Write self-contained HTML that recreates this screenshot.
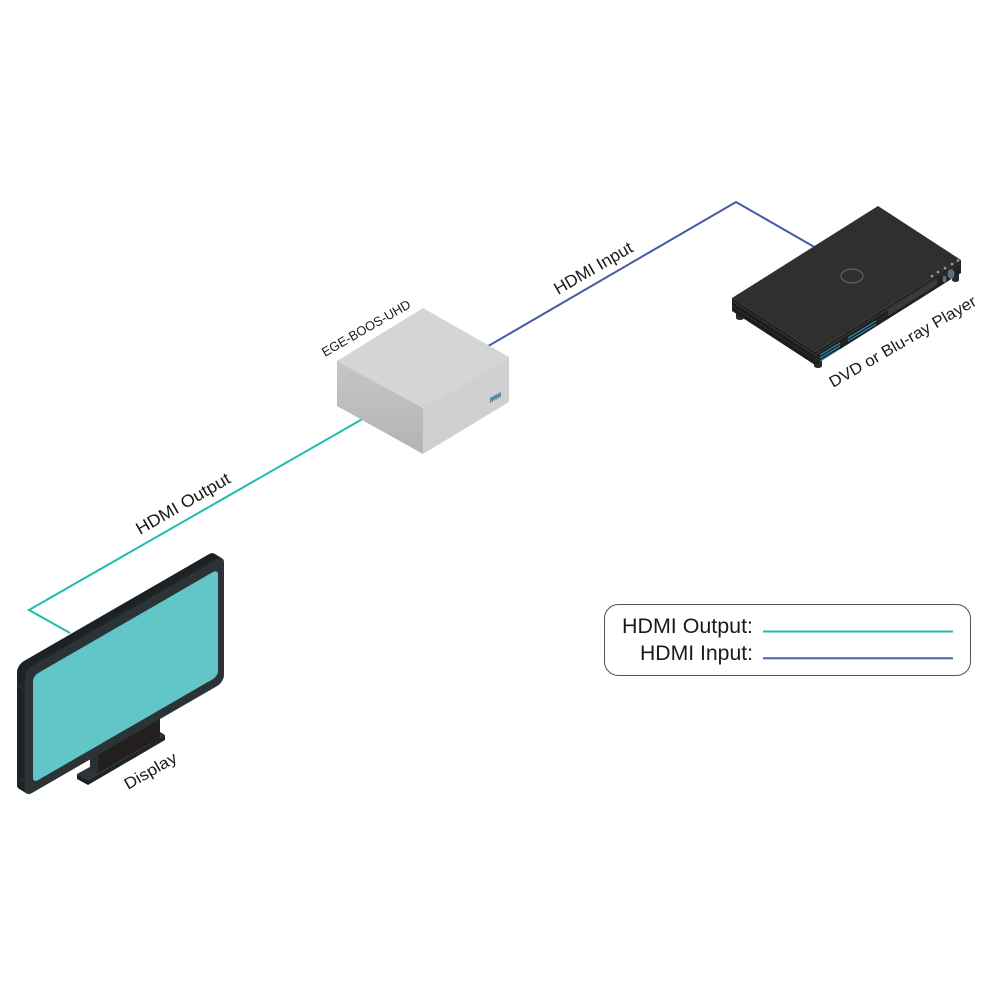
<!DOCTYPE html>
<html>
<head>
<meta charset="utf-8">
<style>
html,body{margin:0;padding:0;background:#fff;}
svg{display:block;}
text{font-family:"Liberation Sans",sans-serif;fill:#1a1a1a;}
</style>
</head>
<body>
<svg width="1000" height="1000" viewBox="0 0 1000 1000" xmlns="http://www.w3.org/2000/svg">
<rect width="1000" height="1000" fill="#fff"/>

<!-- Connectors -->
<polyline points="70,633 29,610 380,409" fill="none" stroke="#1fbcae" stroke-width="2"/>
<polyline points="478,352 736,202 830,256" fill="none" stroke="#4459a8" stroke-width="2"/>

<!-- Connector labels -->
<text transform="translate(558,295) rotate(-30)" font-size="17" textLength="88" lengthAdjust="spacingAndGlyphs">HDMI Input</text>
<text transform="translate(140,535) rotate(-30)" font-size="17" textLength="106" lengthAdjust="spacingAndGlyphs">HDMI Output</text>

<!-- EGE-BOOS-UHD box -->
<defs>
<linearGradient id="lf" x1="0" y1="0" x2="0" y2="1">
<stop offset="0" stop-color="#c6c6c6"/>
<stop offset="1" stop-color="#b3b3b3"/>
</linearGradient>
</defs>
<polygon points="337,361 423,408 423,454 337,406" fill="url(#lf)"/>
<polygon points="423,408 509,357 509,402 423,454" fill="#cfd0d0"/>
<polygon points="337,361 423,308 509,357 423,408" fill="#d4d5d5"/>
<polygon points="490,398 501,392 501,396 490,402" fill="#4f8fa6"/>
<line x1="490" y1="402.5" x2="501" y2="396.5" stroke="#8a6a4a" stroke-width="1" stroke-dasharray="1,1.2"/>
<text transform="translate(325,357) rotate(-30)" font-size="13" textLength="100" lengthAdjust="spacingAndGlyphs">EGE-BOOS-UHD</text>

<!-- DVD player -->
<g>
<!-- feet -->
<rect x="736" y="308" width="8" height="10" fill="#2a2a2a"/>
<ellipse cx="740" cy="318" rx="4" ry="2" fill="#2a2a2a"/>
<rect x="814" y="357" width="8" height="9" fill="#2a2a2a"/>
<ellipse cx="818" cy="366" rx="4" ry="2" fill="#2a2a2a"/>
<rect x="952" y="271" width="7" height="9" fill="#2a2a2a"/>
<ellipse cx="955.5" cy="280" rx="3.5" ry="2" fill="#2a2a2a"/>
<!-- sides -->
<polygon points="732,298 815,352 815,365 732,311" fill="#1c1c1c"/>
<polygon points="815,352 961,260 961,273 815,365" fill="#202020"/>
<polyline points="732,301 815,355 961,263" fill="none" stroke="#3c3c3c" stroke-width="1"/>
<polyline points="732,306 815,360 961,268" fill="none" stroke="#2c2c2c" stroke-width="1"/>
<!-- top -->
<polygon points="732,298 878,206 961,260 815,352" fill="#2f2f2f"/>
<ellipse cx="852" cy="276" rx="11" ry="7" fill="none" stroke="#6e6e6e" stroke-width="1"/>
<!-- display window -->
<polygon points="888,310 937,279 937,285 888,316" fill="#3a3a3a"/>
<!-- buttons -->
<circle cx="932" cy="276" r="1.3" fill="#8fa3b0"/>
<circle cx="938" cy="272" r="1.3" fill="#8fa3b0"/>
<circle cx="945" cy="268" r="1.3" fill="#8fa3b0"/>
<circle cx="952" cy="264" r="1.3" fill="#8fa3b0"/>
<circle cx="958" cy="260.5" r="1.3" fill="#8fa3b0"/>
<ellipse cx="951" cy="274" rx="3.5" ry="5" fill="#5c6e7a"/>
<ellipse cx="944.5" cy="279" rx="2" ry="3.5" fill="#5c6e7a"/>
<!-- cyan stripes -->
<g stroke="#2aa6d4" stroke-width="0.9">
<line x1="820" y1="355" x2="840" y2="343"/>
<line x1="820" y1="358" x2="840" y2="346"/>
<line x1="820" y1="361" x2="840" y2="349"/>
<line x1="848" y1="338" x2="876" y2="321"/>
<line x1="848" y1="341" x2="876" y2="324"/>
</g>
</g>
<text transform="translate(833,388) rotate(-30)" font-size="16" textLength="167" lengthAdjust="spacingAndGlyphs">DVD or Blu-ray Player</text>

<!-- Display stand -->
<polygon points="77,774 157,730 165,735 88,780" fill="#2d3336"/>
<polygon points="88,780 165,735 165,740 88,785" fill="#1f2427"/>
<polygon points="77,774 88,780 88,785 77,779" fill="#1a1e20"/>
<polygon points="90,741 98,745 98,773 90,769" fill="#2a3033"/>
<polygon points="98,745 160,709 160,738 98,773" fill="#231f1e"/>

<!-- Display body (extruded rounded frame) -->
<g transform="translate(25,670) skewY(-30)">
<rect x="-8" y="-9.6" width="199" height="127" rx="7" fill="#1c2124"/>
<rect x="-7" y="-8.4" width="199" height="127" rx="7" fill="#1c2124"/>
<rect x="-6" y="-7.2" width="199" height="127" rx="7" fill="#1d2225"/>
<rect x="-5" y="-6" width="199" height="127" rx="7" fill="#1d2225"/>
<rect x="-4" y="-4.8" width="199" height="127" rx="7" fill="#1d2326"/>
<rect x="-3" y="-3.6" width="199" height="127" rx="7" fill="#1d2326"/>
<rect x="-2" y="-2.4" width="199" height="127" rx="7" fill="#1e2427"/>
<rect x="-1" y="-1.2" width="199" height="127" rx="7" fill="#1e2427"/>
<rect x="0" y="0" width="199" height="127" rx="7" fill="#2b3336"/>
<rect x="8" y="10.6" width="185" height="107" rx="5" fill="#62c6c8"/>
</g>
<line x1="17" y1="685" x2="25" y2="690" stroke="#30383b" stroke-width="0.8"/>
<line x1="17" y1="777" x2="25" y2="782" stroke="#30383b" stroke-width="0.8"/>
<text transform="translate(128,790) rotate(-30)" font-size="16" textLength="58" lengthAdjust="spacingAndGlyphs">Display</text>

<!-- Legend -->
<rect x="604.5" y="604.5" width="366" height="71" rx="14" fill="#fff" stroke="#555" stroke-width="1"/>
<text x="753" y="633" font-size="21.5" text-anchor="end" textLength="131" lengthAdjust="spacingAndGlyphs">HDMI Output:</text>
<text x="753" y="660" font-size="21.5" text-anchor="end" textLength="113" lengthAdjust="spacingAndGlyphs">HDMI Input:</text>
<line x1="763" y1="631.5" x2="953" y2="631.5" stroke="#1fbcae" stroke-width="2"/>
<line x1="763" y1="658.3" x2="953" y2="658.3" stroke="#4a62ad" stroke-width="2"/>
</svg>
</body>
</html>
